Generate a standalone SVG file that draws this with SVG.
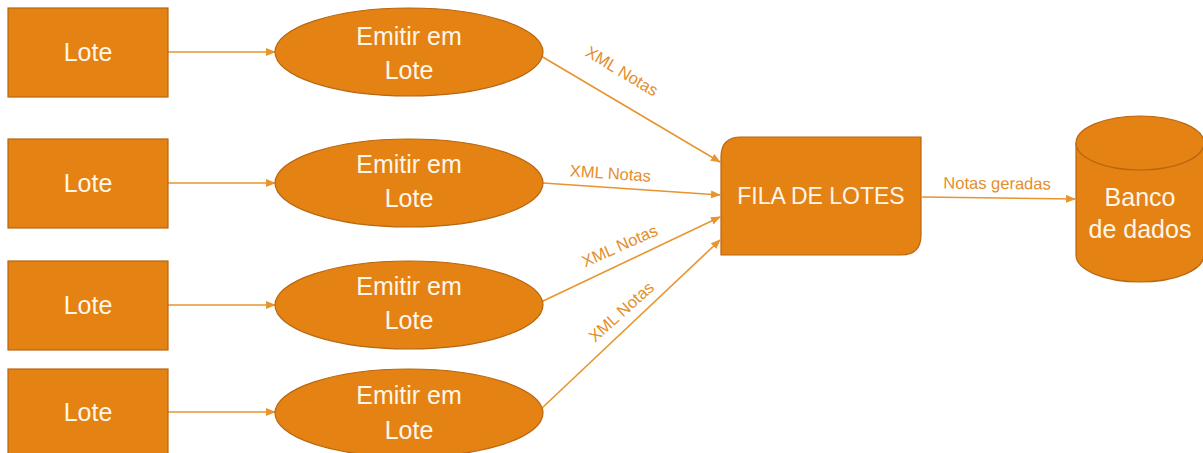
<svg xmlns="http://www.w3.org/2000/svg" width="1203" height="453" viewBox="0 0 1203 453">
<style>
.n{fill:#E48213;stroke:#B8660F;stroke-width:1.2}
.t{font-family:"Liberation Sans",Arial,sans-serif;font-size:25px;fill:#FFF6EA;text-anchor:middle}
.f{font-size:23px}
.c{stroke:#E8952F;stroke-width:1.6;fill:none;marker-end:url(#ah)}
.l{font-family:"Liberation Sans",Arial,sans-serif;font-size:16.5px;fill:#E48E2A;text-anchor:middle}
</style>
<defs>
<marker id="ah" markerWidth="10" markerHeight="8" refX="9" refY="4" orient="auto" markerUnits="userSpaceOnUse">
<path d="M0,0 L10,4 L0,8 Z" fill="#E8952F"/>
</marker>
</defs>
<rect width="1203" height="453" fill="#fff"/>
<g id="connectors">
<line class="c" x1="168" y1="52" x2="275" y2="52"/>
<line class="c" x1="168" y1="183" x2="275" y2="183"/>
<line class="c" x1="168" y1="305" x2="275" y2="305"/>
<line class="c" x1="168" y1="412" x2="275" y2="412"/>
<line class="c" x1="541" y1="56" x2="720" y2="162"/>
<line class="c" x1="543" y1="183" x2="720" y2="195"/>
<line class="c" x1="541" y1="302" x2="720" y2="217"/>
<line class="c" x1="541" y1="409" x2="720" y2="240"/>
<line class="c" x1="922" y1="197" x2="1075" y2="199"/>
<text class="l" transform="translate(619,76) rotate(31)">XML Notas</text>
<text class="l" transform="translate(610,179) rotate(4)">XML Notas</text>
<text class="l" transform="translate(622,251) rotate(-24)">XML Notas</text>
<text class="l" transform="translate(625,316) rotate(-42)">XML Notas</text>
<text class="l" transform="translate(997,189) rotate(0.5)">Notas geradas</text>
</g>
<g id="lote1"><rect class="n" x="8" y="8" width="160" height="89"/><text class="t" x="88" y="61">Lote</text></g>
<g id="lote2"><rect class="n" x="8" y="139" width="160" height="89"/><text class="t" x="88" y="192">Lote</text></g>
<g id="lote3"><rect class="n" x="8" y="261" width="160" height="89"/><text class="t" x="88" y="314">Lote</text></g>
<g id="lote4"><rect class="n" x="8" y="369" width="160" height="89"/><text class="t" x="88" y="421">Lote</text></g>
<g id="emitir1"><ellipse class="n" cx="409" cy="52" rx="134" ry="44"/><text class="t" x="409" y="45">Emitir em</text><text class="t" x="409" y="79">Lote</text></g>
<g id="emitir2"><ellipse class="n" cx="409" cy="183" rx="134" ry="44"/><text class="t" x="409" y="173">Emitir em</text><text class="t" x="409" y="207">Lote</text></g>
<g id="emitir3"><ellipse class="n" cx="409" cy="305" rx="134" ry="44"/><text class="t" x="409" y="295">Emitir em</text><text class="t" x="409" y="329">Lote</text></g>
<g id="emitir4"><ellipse class="n" cx="409" cy="413" rx="134" ry="44"/><text class="t" x="409" y="404">Emitir em</text><text class="t" x="409" y="439">Lote</text></g>
<g id="fila"><path class="n" d="M741,137 H921 V235 Q921,255 901,255 H721 V157 Q721,137 741,137 Z"/><text class="t f" x="821" y="204">FILA DE LOTES</text></g>
<g id="banco">
<path class="n" d="M1076,143 V255 A64,27 0 0 0 1204,255 V143"/>
<ellipse class="n" cx="1140" cy="143" rx="64" ry="27"/>
<text class="t" x="1140" y="206">Banco</text><text class="t" x="1140" y="238">de dados</text>
</g>
</svg>
